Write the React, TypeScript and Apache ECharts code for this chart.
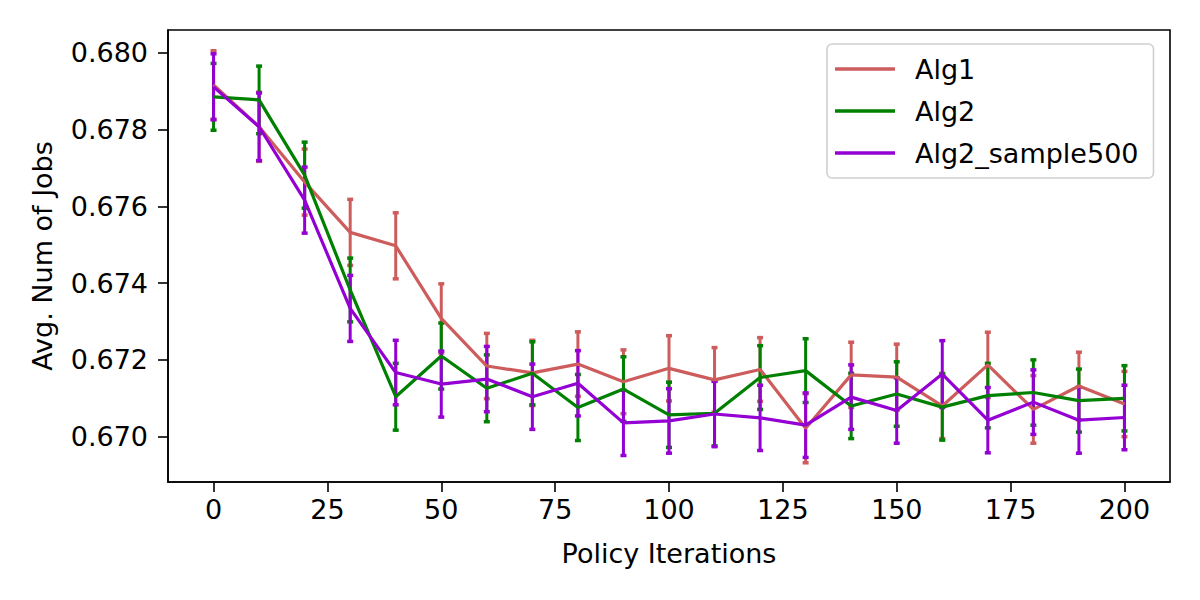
import React, { useEffect, useRef } from "react";
import * as echarts from "echarts";

const iterations = [0, 10, 20, 30, 40, 50, 60, 70, 80, 90, 100, 110, 120, 130, 140, 150, 160, 170, 180, 190, 200];
const seriesNames = ["Alg1", "Alg2", "Alg2_sample500"];
const seriesColors = ["#CD5C5C", "#008000", "#9400D3"];

const alg1Mean = [0.67916, 0.67807, 0.67663, 0.67532, 0.67497, 0.67308, 0.67184, 0.67166, 0.67189, 0.67143, 0.67178, 0.67148, 0.67175, 0.67022, 0.67161, 0.67155, 0.6708, 0.67187, 0.67071, 0.67132, 0.67085];
const alg1Err = [0.00089, 0.0009, 0.00086, 0.00086, 0.00086, 0.0009, 0.00085, 0.00085, 0.00084, 0.00083, 0.00085, 0.00084, 0.00083, 0.0009, 0.00085, 0.00086, 0.00085, 0.00085, 0.00088, 0.00088, 0.00085];

const alg2Mean = [0.67885, 0.67877, 0.67681, 0.67382, 0.67104, 0.6721, 0.67126, 0.67165, 0.67076, 0.67124, 0.67057, 0.67061, 0.67154, 0.67172, 0.6708, 0.67111, 0.67077, 0.67107, 0.67115, 0.67094, 0.671];
const alg2Err = [0.00087, 0.00088, 0.00086, 0.00083, 0.00087, 0.00086, 0.00087, 0.00082, 0.00086, 0.00084, 0.00085, 0.00085, 0.00083, 0.00083, 0.00085, 0.00084, 0.00086, 0.00084, 0.00085, 0.00082, 0.00085];

const alg3Mean = [0.67911, 0.67807, 0.67616, 0.67334, 0.67167, 0.67137, 0.6715, 0.67104, 0.67139, 0.67036, 0.67041, 0.67059, 0.67049, 0.6703, 0.67103, 0.67068, 0.67163, 0.67043, 0.6709, 0.67043, 0.6705];
const alg3Err = [0.00086, 0.00088, 0.00086, 0.00086, 0.00084, 0.00086, 0.00085, 0.00085, 0.00085, 0.00085, 0.00084, 0.00085, 0.00085, 0.00084, 0.00084, 0.00085, 0.00087, 0.00085, 0.00084, 0.00086, 0.00084];

const xTicks = [0, 25, 50, 75, 100, 125, 150, 175, 200];
const yTicks = [0.67, 0.672, 0.674, 0.676, 0.678, 0.68];

const means = [alg1Mean, alg2Mean, alg3Mean];
const errs = [alg1Err, alg2Err, alg3Err];

const FONT = "DejaVu Sans";

export default function App() {
  const ref = useRef<HTMLDivElement>(null);
  useEffect(() => {
    if (!ref.current) return;
    const chart = echarts.init(ref.current, null, { renderer: "svg" });
    const series: any[] = [];
    means.forEach((m, si) => {
      const color = seriesColors[si];
      series.push({
        name: seriesNames[si] + " err",
        type: "custom",
        z: 1,
        data: iterations.map((x, i) => [x, m[i] - errs[si][i], m[i] + errs[si][i]]),
        encode: { x: 0, y: [1, 2] },
        renderItem: (params: any, api: any) => {
          const lo = api.coord([api.value(0), api.value(1)]);
          const hi = api.coord([api.value(0), api.value(2)]);
          const cw = 3;
          return {
            type: "group",
            children: [
              { type: "line", shape: { x1: lo[0], y1: lo[1], x2: hi[0], y2: hi[1] }, style: { stroke: color, lineWidth: 3 } },
              { type: "line", shape: { x1: lo[0] - cw, y1: lo[1], x2: lo[0] + cw, y2: lo[1] }, style: { stroke: color, lineWidth: 3.5 } },
              { type: "line", shape: { x1: hi[0] - cw, y1: hi[1], x2: hi[0] + cw, y2: hi[1] }, style: { stroke: color, lineWidth: 3.5 } },
            ],
          };
        },
      });
    });
    means.forEach((m, si) => {
      series.push({
        name: seriesNames[si],
        type: "line",
        z: 2,
        symbol: "none",
        data: iterations.map((x, i) => [x, m[i]]),
        lineStyle: { color: seriesColors[si], width: 3.2 },
        itemStyle: { color: seriesColors[si] },
      });
    });

    chart.setOption({
      animation: false,
      backgroundColor: "#fff",
      grid: {
        left: 168,
        top: 30,
        right: 30,
        bottom: 118,
        show: true,
        borderColor: "#000",
        borderWidth: 1.6,
        backgroundColor: "transparent",
      },
      legend: {
        data: seriesNames,
        orient: "vertical",
        left: 827,
        top: 44,
        padding: [10, 15, 10, 8],
        itemGap: 12,
        itemWidth: 60,
        itemHeight: 3.5,
        icon: "rect",
        borderColor: "#d0d0d0",
        borderWidth: 1.6,
        borderRadius: 5,
        backgroundColor: "#fff",
        textStyle: { fontFamily: FONT, fontSize: 27, color: "#000", lineHeight: 30, padding: [0, 0, 0, 15] },
        selectedMode: false,
      },
      xAxis: {
        type: "value",
        min: -10,
        max: 210,
        name: "Policy Iterations",
        nameLocation: "middle",
        nameGap: 58,
        nameTextStyle: { fontFamily: FONT, fontSize: 27, color: "#000" },
        axisLine: { show: true, onZero: false, lineStyle: { color: "#000", width: 1.6 } },
        axisTick: { show: true, length: 10, lineStyle: { color: "#000", width: 1.6 }, customValues: xTicks },
        axisLabel: { fontFamily: FONT, fontSize: 27, color: "#000", margin: 14, customValues: xTicks },
        splitLine: { show: false },
      },
      yAxis: {
        type: "value",
        min: 0.66882,
        max: 0.68059,
        name: "Avg. Num of Jobs",
        nameLocation: "middle",
        nameGap: 112,
        nameTextStyle: { fontFamily: FONT, fontSize: 27, color: "#000" },
        axisLine: { show: true, onZero: false, lineStyle: { color: "#000", width: 1.6 } },
        axisTick: { show: true, length: 10, lineStyle: { color: "#000", width: 1.6 }, customValues: yTicks },
        axisLabel: {
          fontFamily: FONT,
          fontSize: 27,
          color: "#000",
          margin: 20,
          customValues: yTicks,
          formatter: (v: number) => v.toFixed(3),
        },
        splitLine: { show: false },
      },
      series,
    });
    return () => chart.dispose();
  }, []);
  return <div ref={ref} style={{ position: "fixed", left: 0, top: 0, width: 1200, height: 600 }} />;
}
